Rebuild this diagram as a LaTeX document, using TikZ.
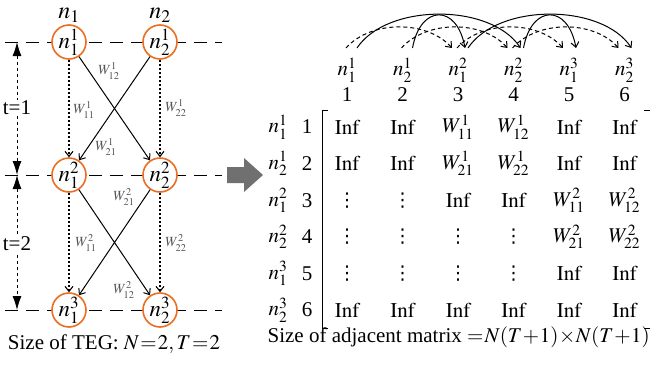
\documentclass[tikz,border=0pt]{standalone}
\usepackage{mathptmx}
\usepackage[no-math]{fontspec}
\setmainfont{Liberation Serif}
\newfontfamily\symfont{DejaVu Sans}
\usetikzlibrary{arrows.meta}
\definecolor{tegorange}{RGB}{235,110,35}
\definecolor{wgray}{RGB}{85,85,85}
\definecolor{blockgray}{RGB}{112,112,112}
\newcommand{\Inf}{\mathrm{Inf}}
\newcommand{\vdts}{\vcenter{\hbox{\symfont\fontsize{19}{20}\selectfont ⋮}}}
\newcommand{\tight}{\thickmuskip=1mu \medmuskip=0.5mu}
\tikzset{
  tegnode/.style={circle, draw=tegorange, line width=1.6pt, fill=white,
    minimum size=34pt, inner sep=0pt, font=\fontsize{23}{25}\selectfont},
  level/.style={line width=1pt, dash pattern=on 13pt off 8pt},
  wlabel/.style={text=wgray, inner sep=0pt, font=\fontsize{14}{16}\selectfont},
  hold/.style={line width=1.1pt, dash pattern=on 2pt off 2pt, -{Straight Barb[length=5pt,width=8pt]}},
  move/.style={line width=1pt, -{Straight Barb[length=5pt,width=8pt]}},
  holdarc/.style={line width=1pt, dash pattern=on 4pt off 3pt, -{Straight Barb[length=5pt,width=8pt]}},
  txt/.style={inner sep=0pt, font=\fontsize{21}{24}\selectfont},
}
\begin{document}
\begin{tikzpicture}[x=1pt, y=-1pt]
\useasboundingbox (0,0) rectangle (650,364);
% time levels
\foreach \y [count=\k] in {42,175,310} {
  \coordinate (l\k) at (5,\y);
  \coordinate (r\k) at (222,\y);
  \coordinate (s\k) at (17,\y);
  \draw[level] (l\k) -- (r\k);
}
% TEG nodes
\foreach \y [count=\k] in {42,175,310} {
  \node[tegnode] (a\k) at (69,\y) {$n_1^{\k}$};
  \node[tegnode] (b\k) at (160,\y) {$n_2^{\k}$};
}
\node[txt, font=\fontsize{24}{26}\selectfont] (top1) at (69,15) {$n_1$};
\node[txt, font=\fontsize{24}{26}\selectfont] (top2) at (160,15) {$n_2$};
% time steps
\draw[dashed, line width=1pt, {Latex[length=14pt,width=9pt]}-{Latex[length=14pt,width=9pt]}] (s1) -- (s2);
\draw[dashed, line width=1pt, {Latex[length=14pt,width=9pt]}-{Latex[length=14pt,width=9pt]}] (s2) -- (s3);
\node[txt, fill=white, inner sep=1pt] (t1) at (17,108) {t=1};
\node[txt, fill=white, inner sep=1pt] (t2) at (17,244) {t=2};
% edges
\foreach \k/\m in {1/2,2/3} {
  \draw[hold] (a\k) -- (a\m);
  \draw[hold] (b\k) -- (b\m);
  \draw[move] (a\k) -- (b\m);
  \draw[move] (b\k) -- (a\m);
}
\node[wlabel] (w12a) at (109,71) {$W_{12}^1$};
\node[wlabel] (w11a) at (84,110) {$W_{11}^1$};
\node[wlabel] (w22a) at (176,108) {$W_{22}^1$};
\node[wlabel] (w21a) at (106,147) {$W_{21}^1$};
\node[wlabel] (w21b) at (124,197) {$W_{21}^2$};
\node[wlabel] (w11b) at (86,243) {$W_{11}^2$};
\node[wlabel] (w22b) at (176,243) {$W_{22}^2$};
\node[wlabel] (w12b) at (124,290) {$W_{12}^2$};
\node[txt] (capl) at (114,344) {Size of TEG: $\tight N=2,T=2$};
% block arrow
\fill[blockgray] (227,167) -- (244,167) -- (244,158) -- (263,175) -- (244,192)
  -- (244,183) -- (227,183) -- cycle;
% header of the matrix
\foreach \s/\t [count=\j] in {1/1,2/1,1/2,2/2,1/3,2/3} {
  \node[txt] (h\j) at ({347+55.5*(\j-1)},70) {$n_{\s}^{\t}$};
  \node[txt] (d\j) at ({347+55.5*(\j-1)},95) {\j};
  \coordinate (c\j) at ({347+55.5*(\j-1)},48);
  \node[txt] (rl\j) at (278,{127+36.6*(\j-1)}) {$n_{\s}^{\t}$};
  \node[txt] (rn\j) at (307,{127+36.6*(\j-1)}) {\j};
}
% arcs over the header
\foreach \p/\q in {1/3,2/4,3/5,4/6}
  \draw[holdarc] ([xshift=-1pt]c\p) .. controls +(25,-28) and +(-25,-28) .. ([xshift=-6pt]c\q);
\foreach \p/\q in {1/4,3/6}
  \draw[move] ([xshift=10pt]c\p) .. controls +(30,-45) and +(-30,-45) .. ([xshift=7pt]c\q);
\foreach \p/\q in {2/3,4/5}
  \draw[move] ([xshift=10pt]c\p) .. controls +(8,-44) and +(-8,-44) .. ([xshift=7pt]c\q);
% matrix
\foreach \row [count=\i] in {
  {\Inf,\Inf,W_{11}^1,W_{12}^1,\Inf,\Inf},
  {\Inf,\Inf,W_{21}^1,W_{22}^1,\Inf,\Inf},
  {\vdts,\vdts,\Inf,\Inf,W_{11}^2,W_{12}^2},
  {\vdts,\vdts,\vdts,\vdts,W_{21}^2,W_{22}^2},
  {\vdts,\vdts,\vdts,\vdts,\Inf,\Inf},
  {\Inf,\Inf,\Inf,\Inf,\Inf,\Inf}} {
  \foreach \e [count=\j] in \row
    \node[txt] (m\i\j) at ({347+55.5*(\j-1)},{127+36.6*(\i-1)}) {$\e$};
}
\draw[line width=0.8pt] (328,110) -- (322,110) -- (322,328) -- (328,328);
\draw[line width=0.8pt] (644,110) -- (650,110) -- (650,328) -- (644,328);
\node[txt, anchor=east] (capr) at (650,337) {Size of adjacent matrix $\tight=N(T+1)\times N(T+1)$};
\end{tikzpicture}
\end{document}
